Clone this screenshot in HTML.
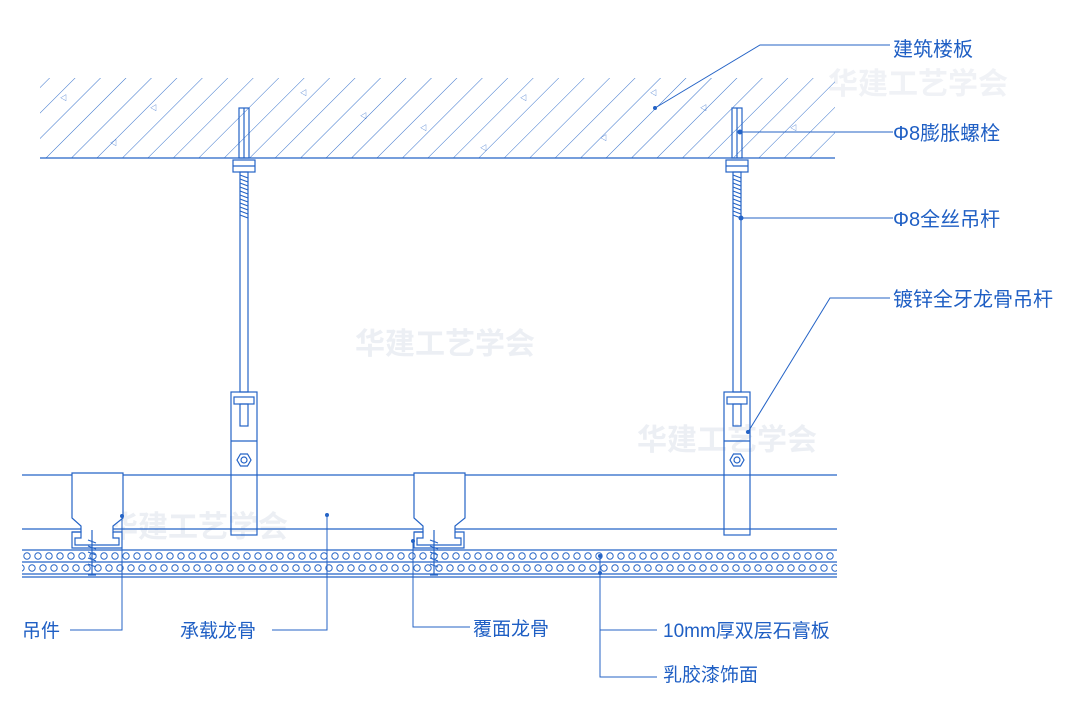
<!DOCTYPE html>
<html><head><meta charset="utf-8"><style>
html,body{margin:0;padding:0;background:#fff;width:1080px;height:704px;overflow:hidden}
svg{display:block}
text{font-family:"Liberation Sans","Noto Sans CJK SC",sans-serif;fill:#1f5fc4;font-size:19px}
</style></head><body>
<svg width="1080" height="704" viewBox="0 0 1080 704">
<defs>
<pattern id="hatch" width="18" height="18" patternUnits="userSpaceOnUse" patternTransform="rotate(45)">
<line x1="0" y1="0" x2="0" y2="18" stroke="#3a74cc" stroke-width="1"/>
</pattern>
<pattern id="dots" x="22" y="550" width="22" height="24" patternUnits="userSpaceOnUse">
<circle cx="5" cy="6" r="3.2" fill="none" stroke="#2a68c8" stroke-width="1"/>
<circle cx="16" cy="6" r="3.2" fill="none" stroke="#2a68c8" stroke-width="1"/>
<circle cx="10" cy="18" r="3.2" fill="none" stroke="#2a68c8" stroke-width="1"/>
<circle cx="21" cy="18" r="3.2" fill="none" stroke="#2a68c8" stroke-width="1"/>
<circle cx="-1" cy="18" r="3.2" fill="none" stroke="#2a68c8" stroke-width="1"/>
</pattern>
</defs>
<g stroke="#2463c6" fill="none" stroke-width="1.2">
<text x="828" y="94" style="fill:#f0f2f6;font-size:30px;font-weight:bold" stroke="none">华建工艺学会</text>
<text x="355" y="354" style="fill:#eceff4;font-size:30px;font-weight:bold" stroke="none">华建工艺学会</text>
<text x="637" y="450" style="fill:#eceff4;font-size:30px;font-weight:bold" stroke="none">华建工艺学会</text>
<text x="108" y="537" style="fill:#eceff4;font-size:30px;font-weight:bold" stroke="none">华建工艺学会</text>
<rect x="40" y="78" width="795" height="80" fill="url(#hatch)" stroke="none"/>
<line x1="40" y1="158" x2="835" y2="158"/>
<g fill="#2463c6" stroke="none">
<text x="60" y="100" style="font-size:7px">◁</text><text x="150" y="110" style="font-size:7px">◁</text><text x="300" y="95" style="font-size:7px">◁</text>
<text x="420" y="130" style="font-size:7px">◁</text><text x="520" y="100" style="font-size:7px">◁</text><text x="600" y="140" style="font-size:7px">◁</text>
<text x="700" y="110" style="font-size:7px">◁</text><text x="790" y="130" style="font-size:7px">◁</text><text x="110" y="145" style="font-size:7px">◁</text>
<text x="360" y="118" style="font-size:7px">◁</text><text x="650" y="95" style="font-size:7px">◁</text><text x="480" y="150" style="font-size:7px">◁</text>
</g>
<g id="h1">
<rect x="239" y="108" width="10" height="50"/>
<line x1="244" y1="108" x2="244" y2="158"/>
<rect x="233" y="160" width="22" height="12"/>
<line x1="233" y1="166" x2="255" y2="166"/>
<rect x="240" y="172" width="8" height="220"/>
<path d="M240 175 L248 178 M240 179 L248 182 M240 183 L248 186 M240 187 L248 190 M240 191 L248 194 M240 195 L248 198 M240 199 L248 202 M240 203 L248 206 M240 207 L248 210 M240 211 L248 214 M240 215 L248 218"/>
<rect x="231" y="392" width="26" height="143"/>
<rect x="234" y="397" width="20" height="7"/>
<rect x="240" y="404" width="8" height="22"/>
<line x1="231" y1="441" x2="257" y2="441"/>
<polygon points="237,460 240.5,454 247.5,454 251,460 247.5,466 240.5,466"/>
<circle cx="244" cy="460" r="3"/>
</g>
<use href="#h1" x="493"/>
<line x1="22" y1="475" x2="837" y2="475"/>
<line x1="22" y1="529" x2="837" y2="529"/>
<g id="c1" fill="#fff">
<path d="M72 473 H123 V518 L113 526 V532 H122 V548 H72 V532 H81 V526 L72 518 Z"/>
<path d="M72 532 H81 V538 H75 V545 H119 V538 H113 V532" fill="none"/>
<path d="M92 530 V575 M88 575 H96 M88 540 L96 543 M88 546 L96 549 M88 552 L96 555 M88 558 L96 561 M88 564 L96 567"/>
</g>
<use href="#c1" x="342"/>
<rect x="22" y="550" width="815" height="24" fill="url(#dots)" stroke="none"/>
<line x1="22" y1="550" x2="837" y2="550"/>
<line x1="22" y1="562" x2="837" y2="562"/>
<line x1="22" y1="574" x2="837" y2="574"/>
<line x1="22" y1="577" x2="837" y2="577"/>
<g stroke-width="1">
<path d="M122 516 V630 H70"/>
<path d="M327 515 V630 H272"/>
<path d="M413 541 V627 H470"/>
<path d="M600 556 V677 H657 M600 630 H657"/>
<path d="M655 108 L760 45 H890"/>
<path d="M740 132 H893"/>
<path d="M741 218 H893"/>
<path d="M748 432 L830 298 H890"/>
</g>
<g fill="#2463c6" stroke="none">
<circle cx="122" cy="516" r="2"/><circle cx="327" cy="515" r="2"/><circle cx="413" cy="541" r="2"/>
<circle cx="600" cy="556" r="2"/><circle cx="600" cy="573" r="2"/><circle cx="655" cy="108" r="2"/>
<circle cx="740" cy="132" r="2.5"/><circle cx="741" cy="218" r="2.5"/><circle cx="748" cy="432" r="2"/>
</g>
</g>
<text x="893" y="56" style="font-size:20px">建筑楼板</text>
<text x="893" y="140" style="font-size:20px">Φ8膨胀螺栓</text>
<text x="893" y="226" style="font-size:20px">Φ8全丝吊杆</text>
<text x="893" y="306" style="font-size:20px">镀锌全牙龙骨吊杆</text>
<text x="22" y="637">吊件</text>
<text x="180" y="637">承载龙骨</text>
<text x="473" y="635">覆面龙骨</text>
<text x="663" y="637">10mm厚双层石膏板</text>
<text x="663" y="681">乳胶漆饰面</text>
</svg>
</body></html>
